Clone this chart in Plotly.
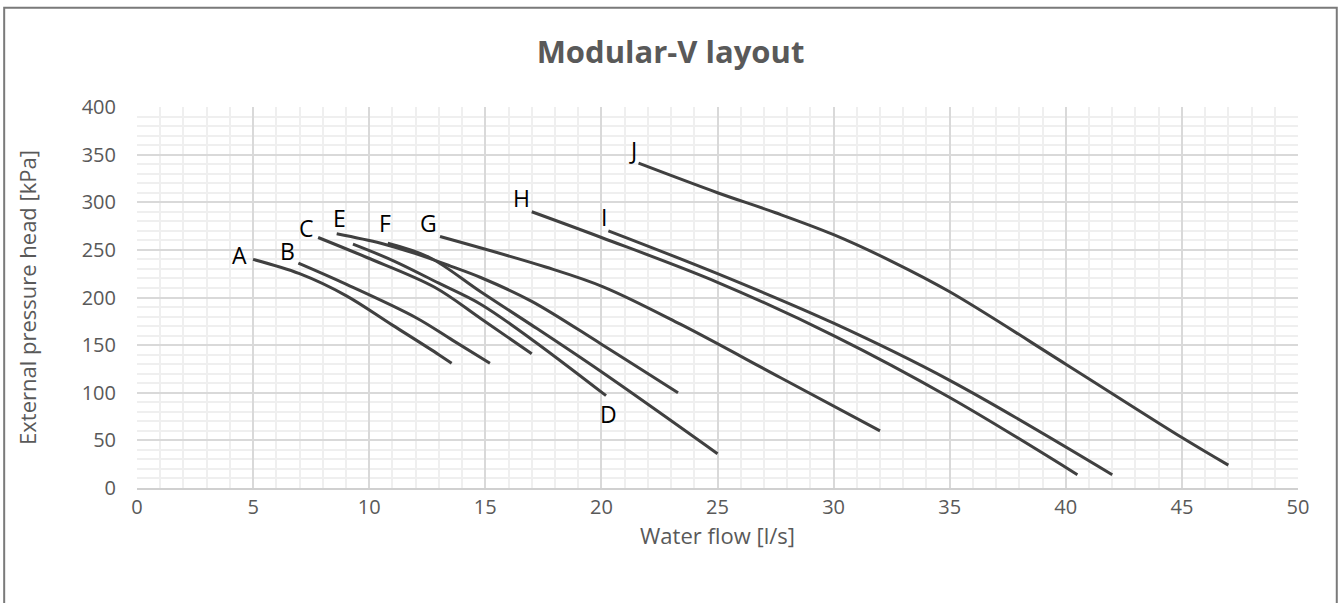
import plotly.graph_objects as go

# Pump curves: water flow [l/s] vs external pressure head [kPa]
A_x = [5.0, 7.0, 9.0, 11.0, 13.0, 13.55]
A_y = [240, 225, 202, 171, 140, 131]

B_x = [6.95, 9.0, 12.0, 13.6, 15.2]
B_y = [236, 214, 179, 155, 131]

C_x = [7.8, 9.9, 12.8, 14.8, 17.0]
C_y = [263, 242, 211, 178, 141]

D_x = [9.3, 11.0, 13.0, 14.8, 17.0, 20.2]
D_y = [256, 239, 215, 193, 156, 97]

E_x = [8.6, 10.5, 12.0, 13.5, 14.8, 17.0, 20.0, 23.3]
E_y = [267, 257, 246, 233, 221, 196, 151, 100]

F_x = [10.8, 12.6, 14.8, 17.0, 20.0, 25.0]
F_y = [257, 242, 206, 171, 122, 36]

G_x = [13.05, 17.6, 20.1, 23.4, 27.7, 32.0]
G_y = [264, 232, 211, 172, 116, 60]

H_x = [17.0, 20.0, 25.0, 30.0, 35.0, 40.5]
H_y = [290, 263, 216, 160, 95, 14]

I_x = [20.3, 25.0, 30.0, 35.0, 42.0]
I_y = [270, 225, 173, 113, 14]

J_x = [21.6, 25.0, 27.5, 30.0, 32.5, 35.0, 40.0, 45.0, 47.0]
J_y = [341, 310, 289, 266, 238, 206, 130, 53, 24]

series = {
    "A": (A_x, A_y), "B": (B_x, B_y), "C": (C_x, C_y), "D": (D_x, D_y),
    "E": (E_x, E_y), "F": (F_x, F_y), "G": (G_x, G_y), "H": (H_x, H_y),
    "I": (I_x, I_y), "J": (J_x, J_y),
}

# label placement: which end of the curve, and pixel offset from it
label_style = {
    "A": ("start", -14, 4), "B": ("start", -11, 12), "C": ("start", -12, 9),
    "D": ("end", 2, -18), "E": ("start", 3, 16), "F": ("start", -3, 20),
    "G": ("start", -12, 14), "H": ("start", -10, 14), "I": ("start", -4, 14),
    "J": ("start", -6, 13),
}

LINE = "#404040"
TEXT = "#595959"
FONT = "Open Sans"

fig = go.Figure()
annotations = []
for name, (xs, ys) in series.items():
    fig.add_trace(go.Scatter(
        x=xs, y=ys, mode="lines", name=name,
        line=dict(color=LINE, width=3, shape="spline", smoothing=1.0),
        showlegend=False,
    ))
    end, dx, dy = label_style[name]
    i = 0 if end == "start" else -1
    annotations.append(dict(
        x=xs[i], y=ys[i], text=name, showarrow=False,
        xanchor="center", yanchor="middle", xshift=dx, yshift=dy,
        font=dict(family=FONT, size=23, color="#000000"),
    ))

fig.update_layout(
    width=1341, height=603,
    margin=dict(l=137, r=43, t=107, b=115),
    paper_bgcolor="white", plot_bgcolor="white",
    font=dict(family=FONT, color=TEXT),
    title=dict(text="<b>Modular-V layout</b>", x=0.5, xanchor="center",
               y=0.913, yanchor="middle",
               font=dict(family=FONT, size=31, color=TEXT)),
    annotations=annotations,
    shapes=[dict(type="rect", xref="paper", yref="paper",
                 x0=-0.1144, x1=1.0334, y0=-0.32, y1=1.2603,
                 line=dict(color="#7a7a7a", width=2), layer="below")],
)

fig.update_xaxes(
    range=[0, 50], dtick=5, tick0=0,
    showgrid=True, gridcolor="#d9d9d9", gridwidth=1.5,
    minor=dict(dtick=1, showgrid=True, gridcolor="#efefef", gridwidth=1.6),
    showline=True, linecolor="#d0d0d0", linewidth=1.5,
    zeroline=False, ticks="",
    tickfont=dict(family=FONT, size=20, color=TEXT),
    ticklabelstandoff=0,
    title=dict(text="Water flow [l/s]", standoff=8,
               font=dict(family=FONT, size=22, color=TEXT)),
)
fig.update_yaxes(
    range=[0, 400], dtick=50, tick0=0,
    showgrid=True, gridcolor="#d9d9d9", gridwidth=1.5,
    minor=dict(dtick=10, showgrid=True, gridcolor="#efefef", gridwidth=1.6),
    showline=False, zeroline=False, ticks="",
    tickfont=dict(family=FONT, size=20, color=TEXT),
    ticklabelstandoff=20,
    title=dict(text="External pressure head [kPa]", standoff=38,
               font=dict(family=FONT, size=22, color=TEXT)),
)

fig.write_html("out.html")
